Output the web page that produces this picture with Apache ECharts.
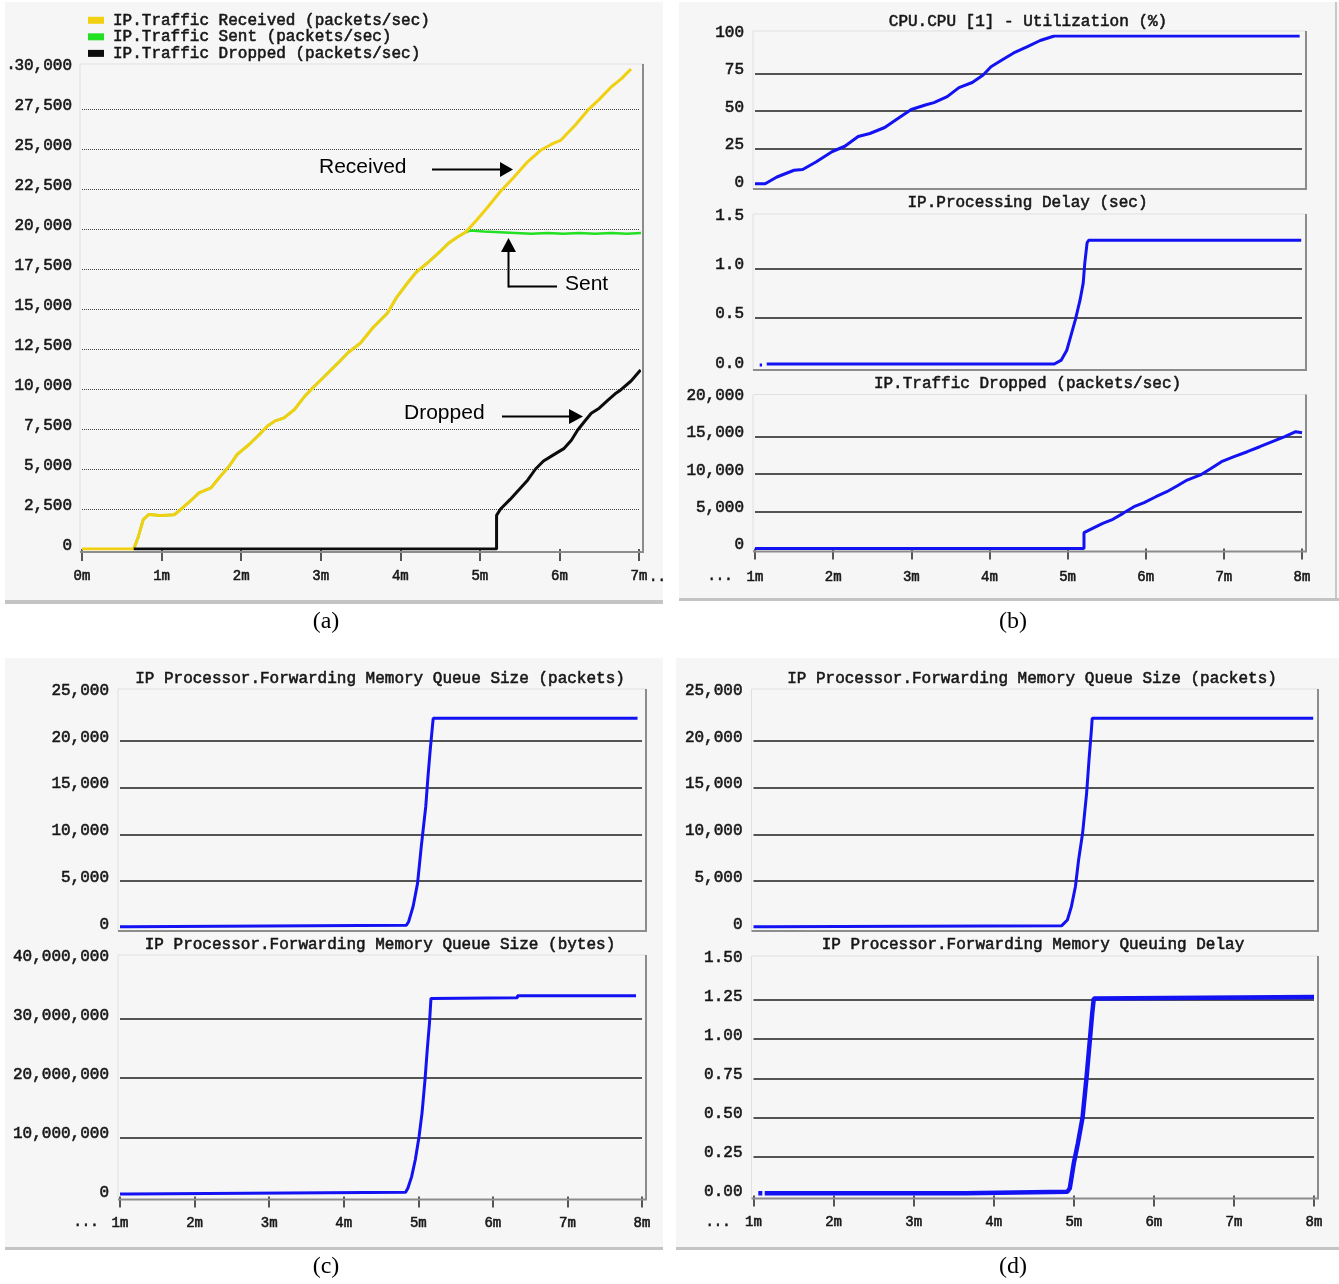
<!DOCTYPE html>
<html><head><meta charset="utf-8">
<script src="https://cdn.jsdelivr.net/npm/echarts@6/dist/echarts.min.js"></script>
<style>html,body{margin:0;padding:0;background:#fff}#c{width:1339px;height:1284px}</style>
</head><body><div id="c"></div>
<script>
// ================= DATA =================
// (a) IP traffic, time in minutes
const recvT = [0, 0.65, 0.71, 0.77, 0.84, 0.99, 1.16, 1.24, 1.36, 1.47, 1.62, 1.74, 1.85, 1.95, 2.10, 2.25, 2.33, 2.42, 2.54, 2.67, 2.80, 2.92, 3.05, 3.22, 3.35, 3.50, 3.65, 3.84, 3.95, 4.09, 4.20, 4.34, 4.48, 4.61, 4.72, 4.82, 4.95, 5.10, 5.25, 5.43, 5.60, 5.77, 5.90, 6.02, 6.20, 6.36, 6.50, 6.65, 6.78, 6.90];
const recvV = [0, 0, 800, 1840, 2160, 2090, 2140, 2470, 2990, 3510, 3820, 4550, 5180, 5910, 6530, 7260, 7680, 7990, 8200, 8720, 9550, 10170, 10800, 11640, 12300, 12875, 13800, 14750, 15700, 16625, 17300, 17875, 18500, 19125, 19500, 19800, 20500, 21375, 22300, 23250, 24200, 24940, 25300, 25560, 26500, 27440, 28100, 28875, 29400, 30000];
const sentT = [0.65, 0.71, 0.77, 0.84, 0.99, 1.16, 1.24, 1.36, 1.47, 1.62, 1.74, 1.85, 1.95, 2.10, 2.25, 2.33, 2.42, 2.54, 2.67, 2.80, 2.92, 3.05, 3.22, 3.35, 3.50, 3.65, 3.84, 3.95, 4.09, 4.20, 4.34, 4.48, 4.61, 4.72, 4.82, 4.88, 5.05, 5.25, 5.45, 5.65, 5.85, 6.05, 6.25, 6.45, 6.65, 6.85, 7.04];
const sentV = [0, 800, 1840, 2160, 2090, 2140, 2470, 2990, 3510, 3820, 4550, 5180, 5910, 6530, 7260, 7680, 7990, 8200, 8720, 9550, 10170, 10800, 11640, 12300, 12875, 13800, 14750, 15700, 16625, 17300, 17875, 18500, 19125, 19500, 19800, 19900, 19850, 19800, 19750, 19700, 19750, 19700, 19750, 19700, 19750, 19700, 19750];
const dropAT = [0.65, 5.21, 5.21, 5.26, 5.38, 5.50, 5.60, 5.70, 5.80, 5.93, 6.06, 6.15, 6.23, 6.32, 6.40, 6.50, 6.61, 6.70, 6.77, 6.90, 7.02];
const dropAV = [0, 0, 2100, 2500, 3100, 3750, 4300, 5000, 5500, 5900, 6290, 6800, 7440, 8000, 8480, 8800, 9310, 9700, 9940, 10500, 11190];

// (b)
const cpuT = [1.0, 1.13, 1.28, 1.50, 1.61, 1.78, 1.99, 2.15, 2.32, 2.47, 2.66, 2.80, 3.00, 3.18, 3.29, 3.46, 3.61, 3.78, 3.92, 4.02, 4.16, 4.31, 4.48, 4.65, 4.83, 7.97];
const cpuV = [1.5, 1.5, 6, 10.5, 11, 16, 23, 26.5, 33, 35, 39, 44, 51, 54, 55.6, 59.6, 65.6, 69, 74, 79.5, 84, 88.7, 92.7, 97, 100, 100];
const procDelayT = [1.06, 1.09, 1.12, 1.15, 4.83, 4.92, 4.99, 5.04, 5.10, 5.16, 5.20, 5.22, 5.25, 5.27, 7.99];
const procDelayV = [0.02, 0.02, null, 0.03, 0.03, 0.07, 0.17, 0.31, 0.48, 0.68, 0.85, 1.05, 1.26, 1.285, 1.285];
const dropBT = [1.0, 5.21, 5.21, 5.32, 5.45, 5.58, 5.71, 5.85, 5.98, 6.13, 6.27, 6.40, 6.53, 6.70, 6.84, 6.97, 7.13, 7.30, 7.46, 7.62, 7.78, 7.92, 8.0];
const dropBV = [0, 0, 2120, 2710, 3380, 3920, 4720, 5610, 6150, 6950, 7620, 8390, 9190, 9870, 10760, 11650, 12320, 12990, 13660, 14340, 15010, 15680, 15540];

// (c)
const qPktCT = [1.0, 1.11, 1.11, 4.84, 4.87, 4.93, 4.99, 5.04, 5.10, 5.13, 5.16, 5.20, 7.94];
const qPktCV = [140, 140, 290, 290, 670, 2280, 4770, 8690, 12960, 16170, 19020, 22400, 22400];
const qByteCT = [1.0, 1.11, 1.11, 4.83, 4.86, 4.91, 4.96, 5.01, 5.05, 5.09, 5.12, 5.15, 5.17, 6.33, 6.33, 7.92];
const qByteCV = [410000, 410000, 690000, 690000, 1370000, 3300000, 6200000, 10100000, 14100000, 19700000, 24800000, 29300000, 33500000, 33600000, 33960000, 33960000];

// (d)
const qPktDT = [1.0, 1.15, 1.15, 4.85, 4.92, 4.97, 5.02, 5.06, 5.11, 5.16, 5.19, 5.22, 5.23, 7.99];
const qPktDV = [140, 140, 250, 250, 850, 2280, 4410, 7260, 10120, 14390, 17950, 21150, 22400, 22400];
const qDelayT = [1.06, 1.11, 1.125, 1.14, 3.64, 3.64, 4.92, 4.95, 5.00, 5.05, 5.11, 5.16, 5.20, 5.23, 5.25, 8.0];
const qDelayV = [0.014, 0.014, null, 0.014, 0.014, 0.024, 0.024, 0.046, 0.206, 0.33, 0.50, 0.76, 0.99, 1.165, 1.26, 1.27];

// tick labels
const xLabelsA = ['0m', '1m', '2m', '3m', '4m', '5m', '6m', '7m'];
const xLabelsB = ['1m', '2m', '3m', '4m', '5m', '6m', '7m', '8m'];

// names
const seriesNamesA = ['IP.Traffic Received (packets/sec)', 'IP.Traffic Sent (packets/sec)', 'IP.Traffic Dropped (packets/sec)'];
const titlesB = ['CPU.CPU [1] - Utilization (%)', 'IP.Processing Delay (sec)', 'IP.Traffic Dropped (packets/sec)'];
const titlesC = ['IP Processor.Forwarding Memory Queue Size (packets)', 'IP Processor.Forwarding Memory Queue Size (bytes)'];
const titlesD = ['IP Processor.Forwarding Memory Queue Size (packets)', 'IP Processor.Forwarding Memory Queuing Delay'];
const captions = ['(a)', '(b)', '(c)', '(d)'];
const annotations = ['Received', 'Sent', 'Dropped'];

// ================= LAYOUT / STYLE =================
const MONO = '"Liberation Mono","DejaVu Sans Mono",monospace';
const TXT = '#161616';
const TB = 0.55; // slight text thickening
const BLUE = '#1212f2';
const G = [
  {left: 82, top: 69, width: 557, height: 480},       // a
  {left: 755, top: 36, width: 547, height: 150},      // b1
  {left: 755, top: 219, width: 547, height: 148},     // b2
  {left: 755, top: 399.5, width: 547, height: 149},   // b3
  {left: 120, top: 694, width: 522, height: 234},     // c1
  {left: 120, top: 960, width: 522, height: 236.4},   // c2
  {left: 753.5, top: 694, width: 560.5, height: 234}, // d1
  {left: 753.5, top: 961, width: 560.5, height: 234.5}// d2
];

function pairs(t, v) { return t.map((x, i) => [x, v[i] === null ? '-' : v[i]]); }
const comma = v => Math.round(v).toLocaleString('en-US');

function xAxisFor(i, min, labels, bottom, offset, len) {
  return {
    gridIndex: i, type: 'value', min: min, max: min + 7, interval: 1,
    show: bottom, offset: offset,
    axisLine: {show: false},
    axisTick: {show: true, length: len, lineStyle: {color: '#222', width: 1.5}},
    axisLabel: {margin: 15, fontFamily: MONO, fontSize: 14, color: TXT, textBorderColor: TXT, textBorderWidth: TB,
      formatter: v => labels[Math.round(v - min)] || ''},
    splitLine: {show: false}
  };
}
function yAxisFor(i, max, interval, fmt, dotted) {
  return {
    gridIndex: i, type: 'value', min: 0, max: max, interval: interval,
    axisLine: {show: false}, axisTick: {show: false},
    axisLabel: {margin: i === 0 ? 10 : 11, fontFamily: MONO, fontSize: 16, color: TXT,
      textBorderColor: TXT, textBorderWidth: TB,
      verticalAlign: 'bottom', lineHeight: 7, formatter: fmt},
    splitLine: {show: true, showMinLine: false, showMaxLine: false,
      lineStyle: dotted ? {color: '#444', width: 1, type: [1, 1]} : {color: '#1e1e1e', width: 1.6}}
  };
}
function lineSeries(name, data, xi, color, width) {
  return {name: name, type: 'line', xAxisIndex: xi, yAxisIndex: xi, data: data,
    color: color, showSymbol: false, symbol: 'none', animation: false,
    lineStyle: {color: color, width: width}, connectNulls: false, z: 3};
}

// graphics
const gfx = [];
function rect(x, y, w, h, fill, z) { gfx.push({type: 'rect', z: z, shape: {x, y, width: w, height: h}, style: {fill}}); }
function seg(x1, y1, x2, y2, stroke, w, z) { gfx.push({type: 'line', z: z, shape: {x1, y1, x2, y2}, style: {stroke, lineWidth: w}}); }
function txt(x, y, text, font, align, thick) {
  const st = {text: text, font: font, fill: '#000',
    textAlign: align || 'left', textVerticalAlign: 'middle', align: align || 'left', verticalAlign: 'middle'};
  if (thick) { st.fill = TXT; st.stroke = TXT; st.lineWidth = TB; }
  gfx.push({type: 'text', z: 10, x: x, y: y, style: st});
}
function tri(points) { gfx.push({type: 'polygon', z: 10, shape: {points}, style: {fill: '#000'}}); }

// panel backgrounds
const BG = '#f6f6f6', BAR = '#c4c4c4';
rect(5, 2, 658, 598, BG, -10); rect(5, 600, 658, 4, BAR, -9);
rect(679, 2, 660, 596, BG, -10); rect(679, 598, 660, 3, BAR, -9);
rect(5, 658, 658, 589, BG, -10); rect(5, 1247, 658, 3, BAR, -9);
rect(676, 658, 663, 589, BG, -10); rect(676, 1247, 663, 3, BAR, -9);
seg(1336, 2, 1336, 598, '#c8c8c8', 2, -8);

// plot frames derived from grid rects
G.forEach(g => {
  const x0 = g.left - 2, y0 = g.top - 5, x1 = g.left + g.width + 4, y1 = g.top + g.height + 3;
  seg(x0, y0, x1, y0, '#e0e0e0', 1, 1);
  seg(x0, y0, x0, y1, '#e0e0e0', 1, 1);
  seg(x1, y0, x1, y1, '#8c8c8c', 2, 1);
  seg(x0, y1, x1 + 1, y1, '#8c8c8c', 2, 1);
});

// annotations in (a)
const ANN = '21px "Liberation Sans", Arial, sans-serif';
txt(319, 167, annotations[0], ANN); seg(432, 169.5, 501, 169.5, '#000', 2, 10); tri([[500, 162], [513, 169.5], [500, 177]]);
txt(565, 284, annotations[1], ANN); seg(557, 286.5, 508.5, 286.5, '#000', 2, 10); seg(508.5, 287.5, 508.5, 250, '#000', 2, 10); tri([[501, 252], [508.5, 238], [516, 252]]);
txt(404, 413, annotations[2], ANN); seg(502, 416.5, 570, 416.5, '#000', 2, 10); tri([[569, 409], [583, 416.5], [569, 424]]);

// captions
const CAP = '24px "Liberation Serif", "Times New Roman", serif';
txt(326, 622, captions[0], CAP, 'center'); txt(1013, 622, captions[1], CAP, 'center');
txt(326, 1267, captions[2], CAP, 'center'); txt(1013, 1267, captions[3], CAP, 'center');

// ellipsis bits of axis labels
const TICKF = '14px ' + MONO, LBLF = '16px ' + MONO;
txt(720, 576, '...', TICKF, 'center', true); txt(86, 1222, '...', TICKF, 'center', true); txt(718, 1222, '...', TICKF, 'center', true);
txt(649, 577, '..', TICKF, 'left', true);
txt(11, 65, '.', LBLF, 'center', true);

// titles
function title(text, cx, cy) {
  return {text: text, left: cx, top: cy - 8, textAlign: 'center', padding: 0,
    textStyle: {fontFamily: MONO, fontSize: 16, fontWeight: 'normal', color: TXT, lineHeight: 16,
      textBorderColor: TXT, textBorderWidth: TB}};
}

const option = {
  backgroundColor: '#ffffff',
  animation: false,
  title: [
    title(titlesB[0], 1028, 21.5), title(titlesB[1], 1027.5, 202.5), title(titlesB[2], 1027.5, 383.3),
    title(titlesC[0], 380, 678.3), title(titlesC[1], 380, 944.5),
    title(titlesD[0], 1032, 678.3), title(titlesD[1], 1033, 945)
  ],
  legend: {
    left: 88, top: 12, padding: 0, orient: 'vertical', icon: 'rect', itemWidth: 16, itemHeight: 7, itemGap: 0,
    selectedMode: false, data: seriesNamesA,
    textStyle: {fontFamily: MONO, fontSize: 16, color: TXT, lineHeight: 16, padding: [0, 0, 0, 4],
      textBorderColor: TXT, textBorderWidth: TB}
  },
  grid: G.map(g => Object.assign({outerBoundsMode: 'none', containLabel: false}, g)),
  xAxis: [
    xAxisFor(0, 0, xLabelsA, true, 5, 12),
    xAxisFor(1, 1, xLabelsB, false, 0, 0),
    xAxisFor(2, 1, xLabelsB, false, 0, 0),
    xAxisFor(3, 1, xLabelsB, true, 6.5, 11),
    xAxisFor(4, 1, xLabelsB, false, 0, 0),
    xAxisFor(5, 1, xLabelsB, true, 4.5, 11),
    xAxisFor(6, 1, xLabelsB, false, 0, 0),
    xAxisFor(7, 1, xLabelsB, true, 5.2, 11)
  ],
  yAxis: [
    yAxisFor(0, 30000, 2500, comma, true),
    yAxisFor(1, 100, 25, v => String(Math.round(v)), false),
    yAxisFor(2, 1.5, 0.5, v => v.toFixed(1), false),
    yAxisFor(3, 20000, 5000, comma, false),
    yAxisFor(4, 25000, 5000, comma, false),
    yAxisFor(5, 40000000, 10000000, comma, false),
    yAxisFor(6, 25000, 5000, comma, false),
    yAxisFor(7, 1.5, 0.25, v => v.toFixed(2), false)
  ],
  series: [
    lineSeries(seriesNamesA[1], pairs(sentT, sentV), 0, '#22e022', 2.5),
    lineSeries(seriesNamesA[0], pairs(recvT, recvV), 0, '#f0d010', 3),
    lineSeries(seriesNamesA[2], pairs(dropAT, dropAV), 0, '#0c0c0c', 3),
    lineSeries('CPU Utilization', pairs(cpuT, cpuV), 1, BLUE, 3),
    lineSeries('Processing Delay', pairs(procDelayT, procDelayV), 2, BLUE, 3),
    lineSeries('Traffic Dropped', pairs(dropBT, dropBV), 3, BLUE, 3),
    lineSeries('Queue Size packets c', pairs(qPktCT, qPktCV), 4, BLUE, 3),
    lineSeries('Queue Size bytes', pairs(qByteCT, qByteCV), 5, BLUE, 3),
    lineSeries('Queue Size packets d', pairs(qPktDT, qPktDV), 6, BLUE, 3),
    lineSeries('Queuing Delay', pairs(qDelayT, qDelayV), 7, BLUE, 4.5)
  ],
  graphic: {elements: gfx}
};
const chart = echarts.init(document.getElementById('c'), null, {renderer: 'canvas'});
chart.setOption(option);
</script></body></html>
